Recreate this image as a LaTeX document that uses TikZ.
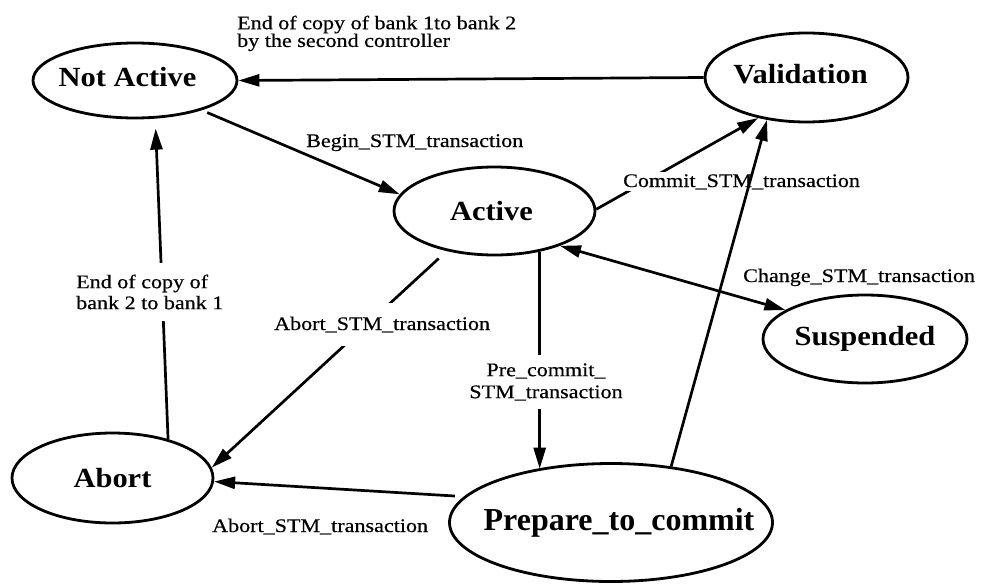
\documentclass[tikz,border=0pt]{standalone}
\usepackage{fontspec}
\setmainfont{Liberation Serif}
\newfontfamily\labfont{Liberation Serif}[FakeStretch=1.15,FakeBold=0.5]
\newfontfamily\stfont{Liberation Serif}[FakeStretch=1.1]
\usetikzlibrary{shapes.geometric,arrows.meta}
\begin{document}
\begin{tikzpicture}[x=1pt,y=-1pt,
  state/.style={ellipse,draw,line width=2.8pt,inner sep=0pt,
    font=\stfont\bfseries\fontsize{27.7}{30}\selectfont},
  conn/.style={line width=2.7pt,-{Triangle[length=21pt,width=12pt]}},
  lab/.style={font=\labfont\fontsize{19.2}{21}\selectfont,inner sep=2pt},
  wlab/.style={lab,fill=white}]
\useasboundingbox (0,0) rectangle (981,583);

% states
\node[state,minimum width=204pt,minimum height=75pt] (na) at (135,80.5)
  {\makebox[0pt]{\raisebox{8pt}{\hspace{-15pt}Not Active}}};
\node[state,minimum width=203pt,minimum height=89pt] (val) at (806.5,77.5)
  {\makebox[0pt]{\raisebox{7pt}{\hspace{-12pt}Validation}}};
\node[state,minimum width=201pt,minimum height=88pt] (act) at (494.5,211)
  {\makebox[0pt]{\hspace{-6pt}Active}};
\node[state,minimum width=204pt,minimum height=88pt] (sus) at (865,339)
  {\makebox[0pt]{Suspended}};
\node[state,minimum width=201pt,minimum height=90pt] (ab) at (112.5,478)
  {\makebox[0pt]{Abort}};
\node[state,minimum width=323pt,minimum height=118pt,
  font=\fontspec{Liberation Serif}\bfseries\fontsize{32}{34}\selectfont] (pc) at (611,522.5)
  {\makebox[0pt]{\raisebox{-7pt}{\hspace{16pt}Prepare\_to\_commit}}};

% connectors
\draw[conn] (val.west) -- (na.east);
\draw[conn,shorten <=6pt] (na.-24) -- (act.170);
\draw[conn] (act.1) -- (val.-140);
\draw[line width=2.7pt,{Triangle[length=21pt,width=12pt]}-{Triangle[length=21pt,width=12pt]}]
  (act.-28.5) -- (sus.160);
\draw[conn] (act.-42.3) -- (act.-42.3 |- pc.144);
\draw[conn,shorten <=11pt] (act.-140.8) -- (ab.6.4);
\draw[conn,shorten <=9pt] (pc.170.5) -- (ab.-2.3);
\draw[conn,shorten >=10pt] (ab.35.8) -- (na.-62.3);

% labels
\node[lab,anchor=west,align=left,font=\labfont\fontsize{19.2}{17.7}\selectfont] (l1) at (235,33.4)
  {End of copy of bank 1to bank 2\\by the second controller};
\node[lab,anchor=base west] (l2) at (304,147) {Begin\_STM\_transaction};
\node[wlab,anchor=base west] (l3) at (621,187) {Commit\_STM\_transaction};
\node[lab,anchor=base west] (l4) at (741,282) {Change\_STM\_transaction};
\node[wlab,anchor=west,align=left,inner ysep=12pt] (l5) at (74,292)
  {End of copy of\\bank 2 to bank 1};
\node[wlab,anchor=base west,inner ysep=14pt] (l6) at (272,330) {Abort\_STM\_transaction};
\node[wlab,align=center,inner ysep=8pt,font=\labfont\fontsize{19.2}{22}\selectfont] (l7) at (546,382)
  {Pre\_commit\_\\STM\_transaction};
\node[lab,anchor=base west] (l8) at (210,532) {Abort\_STM\_transaction};

\draw[conn] (pc.43) -- (val.-133);
\end{tikzpicture}
\end{document}
